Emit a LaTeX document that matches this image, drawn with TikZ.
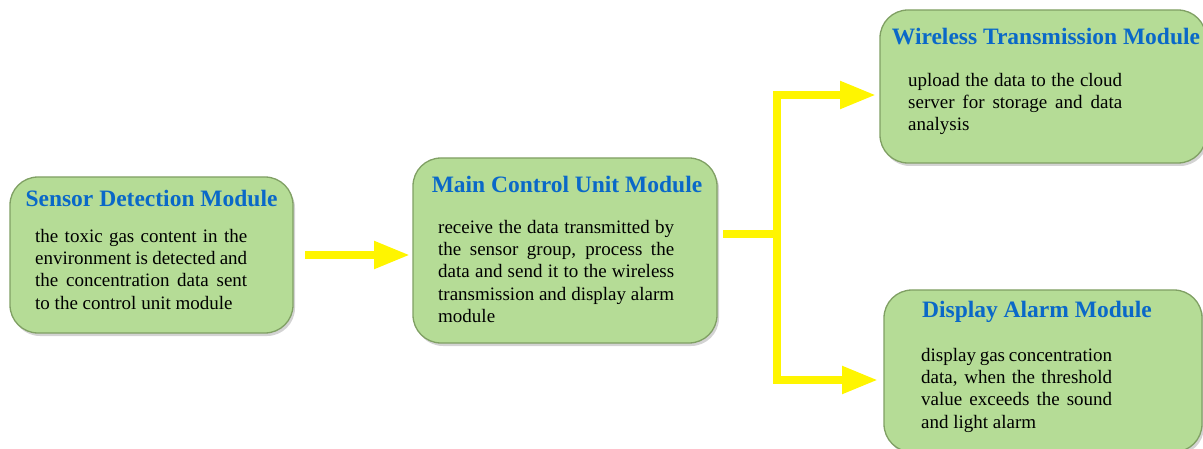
\documentclass[tikz,border=0pt]{standalone}
\usepackage{fontspec}
\setmainfont{Liberation Serif}
\usetikzlibrary{arrows.meta,shadows,positioning}
\definecolor{boxfill}{RGB}{181,220,150}
\definecolor{boxedge}{RGB}{128,160,100}
\definecolor{titleblue}{RGB}{10,104,200}
\definecolor{arrowyellow}{RGB}{255,245,0}
\newcommand\nohyph{\hyphenpenalty=10000 \exhyphenpenalty=10000 \relax}
\tikzset{
  modbox/.style={draw=boxedge, line width=1.3pt, fill=boxfill, rounded corners=28pt,
    drop shadow={shadow xshift=2pt, shadow yshift=-3pt, opacity=0.35}, inner sep=0pt},
  modtitle/.style={font=\fontsize{23.5}{26}\selectfont\bfseries, text=titleblue, inner sep=0pt, anchor=center},
  modbody/.style={font=\fontsize{19}{22.3}\selectfont, text=black, inner sep=0pt, anchor=north west, align=justify},
  yline/.style={draw=arrowyellow, line width=8pt, line join=miter},
  yarrow/.style={yline, -{Triangle[length=36pt,width=26pt]}},
}
\begin{document}
\begin{tikzpicture}[x=1pt,y=-1pt]
\useasboundingbox (0,0) rectangle (1203,449);
% boxes
\node[modbox, minimum width=283pt, minimum height=156pt] (sensor) at (151.5,255) {};
\node[modbox, minimum width=304pt, minimum height=185pt] (main) at (565,250.5) {};
\node[modbox, minimum width=326pt, minimum height=153pt] (wire) at (1043,86.5) {};
\node[modbox, minimum width=318pt, minimum height=162pt] (disp) at (1043,371) {};
% titles
\node[modtitle] (sensorT) at (151.5,198) {Sensor Detection Module};
\node[modtitle] (mainT) at (567,184) {Main Control Unit Module};
\node[modtitle] (wireT) at (1046,37) {Wireless Transmission Module};
\node[modtitle] (dispT) at (1037,312) {Display Alarm Module};
% bodies
\node[modbody, text width=212pt] (sensorB) at (35,229) {\nohyph the toxic gas content in the\linebreak environment is detected and\linebreak the concentration data sent\linebreak to the control unit module};
\node[modbody, text width=236pt] (mainB) at (438,220) {\nohyph receive the data transmitted by\linebreak the sensor group, process the\linebreak data and send it to the wireless\linebreak transmission and display alarm\linebreak module};
\node[modbody, text width=214pt] (wireB) at (908,73) {\nohyph upload the data to the cloud\linebreak server for storage and data\linebreak analysis};
\node[modbody, text width=191pt] (dispB) at (921,348) {\nohyph display gas concentration\linebreak data, when the threshold\linebreak value exceeds the sound\linebreak and light alarm};
% connectors
\coordinate (s0) at (305,255);
\coordinate (s1) at (410,255);
\coordinate (b0) at (723,234);
\coordinate (b1) at (777,234);
\coordinate (wt) at (876,95);
\coordinate (dt) at (878,380);
\draw[yarrow] (s0) -- (s1);
\draw[yline] (b0) -- (b1);
\draw[yarrow] (b1) |- (wt);
\draw[yarrow] (b1) |- (dt);
\end{tikzpicture}
\end{document}
